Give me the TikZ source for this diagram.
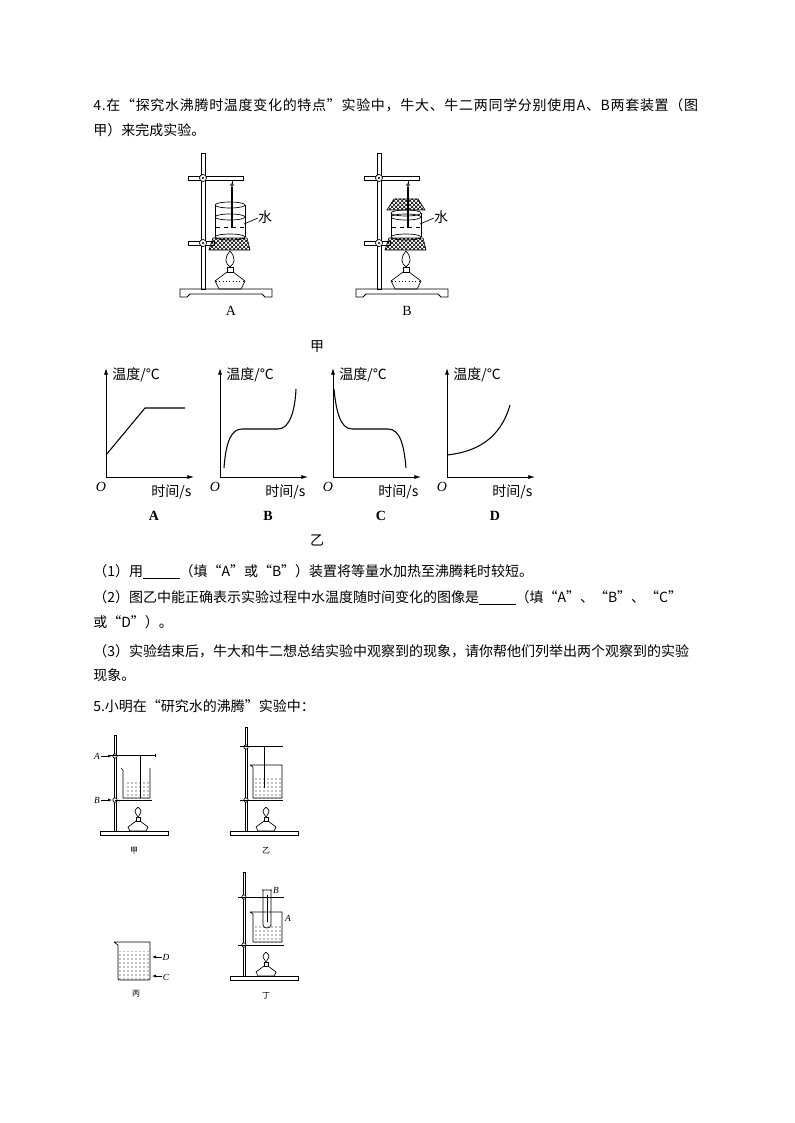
\documentclass[tikz,border=0pt]{standalone}
\usepackage{fontspec}
\setmainfont{Liberation Serif}
\newfontfamily\cjk{Noto Sans CJK SC}
\usetikzlibrary{patterns,arrows.meta}
\begin{document}
\begin{tikzpicture}[x=0.75pt,y=-0.75pt,line width=0.5pt,
  txt/.style={anchor=west,inner sep=0pt,font=\cjk\fontsize{10.5}{12}\selectfont},
  lab/.style={inner sep=0pt,font=\fontsize{10.5}{12}\selectfont\bfseries},
  glab/.style={inner sep=0pt,font=\cjk\fontsize{10.5}{12}\selectfont},
  sm/.style={inner sep=0pt,font=\cjk\fontsize{6}{7}\selectfont},
  ax/.style={-{Latex[length=5pt,width=3pt]},line width=0.6pt},
  crv/.style={line width=0.8pt}]
\useasboundingbox (0,0) rectangle (794,1123);
% ---- text
\node[txt,font=\cjk\fontsize{10.5}{12}\selectfont\addfontfeatures{LetterSpace=5}] (t1) at (93,105) {4.在“探究水沸腾时温度变化的特点”实验中，牛大、牛二两同学分别使用A、B两套装置（图};
\node[txt] (t2) at (93,130) {甲）来完成实验。};
\node[txt] (t3) at (93,572) {（1）用\underline{\hspace{2.6em}}（填“A”或“B”）装置将等量水加热至沸腾耗时较短。};
\node[txt] (t4) at (93,598) {（2）图乙中能正确表示实验过程中水温度随时间变化的图像是\underline{\hspace{2.6em}}（填“A”、“B”、“C”};
\node[txt] (t5) at (93,622) {或“D”）。};
\node[txt] (t6) at (93,651) {（3）实验结束后，牛大和牛二想总结实验中观察到的现象，请你帮他们列举出两个观察到的实验};
\node[txt] (t7) at (93,675) {现象。};
\node[txt] (t8) at (93,706) {5.小明在“研究水的沸腾”实验中：};
% ---- apparatus A and B
\foreach \dx/\L/\lid in {0/A/0,176/B/1}{
 \begin{scope}[xshift=\dx*0.75pt]
  \draw[line width=0.7pt] (180,297) -- (180,289) -- (272,289) -- (272,297) -- (265,297) -- (262,294) -- (190,294) -- (187,297) -- cycle;
  \draw (201,153) rectangle (205,289);
  \draw (188,176) rectangle (243,180);
  \draw[fill=white] (203,178) circle (3.5); \fill (203,178) circle (1.2);
  \draw (188,241) rectangle (214,245);
  \draw[fill=white] (203,243) circle (3.5); \fill (203,243) circle (1.2);
  \pgfmathsetmacro\bt{\lid==1 ? 213 : 205}
  \draw (215,\bt) -- (215,237) (245,\bt) -- (245,237);
  \draw (230,\bt) ellipse (15 and 3);
  \draw (230,217) ellipse (15 and 3);
  \draw (230,237) ellipse (15 and 3);
  \draw[dashed] (216,227) -- (244,227);
  \ifnum\lid=1
   \fill[pattern=crosshatch] (218,199) -- (242,199) -- (249,210) -- (211,210) -- cycle;
   \draw (218,199) -- (242,199) -- (249,210) -- (211,210) -- cycle;
  \fi
  \draw (232,180) -- (232,184); \draw (232,185) circle (1.3);
  \draw[line width=1.6pt] (232,187) -- (232,228);
  \fill[pattern=crosshatch] (213,238) -- (247,238) -- (250,250) -- (209,250) -- cycle;
  \draw (213,238) -- (247,238) -- (250,250) -- (209,250) -- cycle;
  % lamp
  \draw (230,251) .. controls (224,258) and (225,263) .. (230,267) .. controls (235,263) and (236,258) .. (230,251);
  \draw (227,267) rectangle (233,272);
  \draw (227,272) -- (215,281) -- (219,289) -- (241,289) -- (245,281) -- (233,272);
  \draw[dotted] (216,281) -- (244,281);
  \draw (244,224) -- (258,218);
  \node[glab] (w\L) at (265,217) {水};
  \node[lab,font=\fontsize{10.5}{12}\selectfont] (l\L) at (231,311) {\L};
 \end{scope}}
\node[glab] (jia) at (317,347) {甲};
% ---- graphs
\foreach \ox/\L in {106/A,220/B,333/C,447/D}{
 \draw[ax] (\ox,477) -- (\ox,368);
 \draw[ax] (\ox,477) -- (\ox+88,477);
 \node[glab,anchor=west] (ty\L) at (\ox+6,375) {温度/℃};
 \node[inner sep=0pt,font=\itshape\fontsize{10.5}{12}\selectfont] (o\L) at (\ox-5,487) {O};
 \node[glab,anchor=west] (tx\L) at (\ox+45,492) {时间/s};
 \node[lab] (g\L) at (\ox+48,516) {\L};
}
\draw[crv] (106,455) -- (145,408) -- (185,408);
\draw[crv] (224,468) .. controls (226,440) and (232,429) .. (242,429) -- (278,429) .. controls (290,429) and (295,410) .. (296,389);
\draw[crv] (334,389) .. controls (336,410) and (340,429) .. (352,429) -- (388,429) .. controls (400,429) and (404,445) .. (406,468);
\draw[crv] (447,455) .. controls (475,452) and (500,440) .. (510,405);
\node[glab] (yi) at (317,540) {乙};
% ---- problem 5 apparatus
\newcommand\smallstand[6]{% rodx, rodtop, clampy, lowy, basey, baseleft
 \draw[line width=0.6pt] (#6,#5) rectangle ++(68,4);
 \draw (#1-1,#2) rectangle (#1+1,#5);
 \draw[fill=white] (#1,#3) circle (2.2);
 \draw[fill=white] (#1,#4) circle (2.2);
}
\newcommand\smalllamp[2]{% cx, base y
 \draw (#1,#2-24) .. controls (#1-4,#2-20) .. (#1,#2-14) .. controls (#1+4,#2-20) .. (#1,#2-24);
 \draw (#1-2,#2-14) rectangle (#1+2,#2-10);
 \draw (#1-2,#2-10) -- (#1-10,#2-4) -- (#1-8,#2) -- (#1+8,#2) -- (#1+10,#2-4) -- (#1+2,#2-10);
}
% 甲
\smallstand{115}{735}{756}{800}{831}{100}
\draw (109,755) -- (155,755); \draw (155,753.5) -- (155,756.5);
\draw (140,756) -- (140,798);
\fill[pattern=dots] (125,780) rectangle (150,798);
\draw (121,768) -- (123,770) -- (123,798) -- (150,798) -- (150,768);
\draw (115,800) -- (152,800);
\smalllamp{138}{831}
\draw[-{Latex[length=3pt]}] (101,756) -- (112,756);
\draw[-{Latex[length=3pt]}] (101,800) -- (112,800);
\node[inner sep=0pt,font=\itshape\fontsize{7}{8}\selectfont] (pA) at (97,756) {A};
\node[inner sep=0pt,font=\itshape\fontsize{7}{8}\selectfont] (pB) at (97,800) {B};
\node[sm] (s1) at (134,851) {甲};
% 乙
\smallstand{246}{727}{747}{800}{831}{230}
\draw (240,746) -- (283,746);
\draw (264,747) -- (264,788);
\fill[pattern=dots] (254,778) rectangle (282,798);
\draw (250,765) -- (253,767) -- (253,798) -- (282,798) -- (282,765) -- (250,765);
\draw (240,800) -- (283,800);
\smalllamp{266}{831}
\node[sm] (s2) at (266,851) {乙};
% 丙
\fill[pattern=dots] (119,951) rectangle (150,980);
\draw (114,942) -- (118,945) -- (118,978) .. controls (118,980) .. (121,980) -- (148,980) .. controls (150,980) .. (150,978) -- (150,942) -- (114,942);
\draw[-{Latex[length=3pt]}] (162,957) -- (152,957);
\draw[-{Latex[length=3pt]}] (162,976) -- (152,976);
\node[inner sep=0pt,font=\itshape\fontsize{7}{8}\selectfont] (pD) at (166,957) {D};
\node[inner sep=0pt,font=\itshape\fontsize{7}{8}\selectfont] (pC) at (166,977) {C};
\node[sm] (s3) at (136,994) {丙};
% 丁
\smallstand{244}{872}{897}{945}{976}{230}
\draw (238,897) -- (284,897);
\draw (262,890) -- (272,890) (263,890) -- (263,925) .. controls (263,929) and (271,929) .. (271,925) -- (271,890);
\draw (267,895) -- (267,922);
\fill[pattern=dots] (254,925) rectangle (282,942);
\draw (250,912) -- (253,914) -- (253,942) -- (282,942) -- (282,912) -- (250,912);
\draw (238,945) -- (284,945);
\smalllamp{266}{976}
\node[inner sep=0pt,font=\itshape\fontsize{7}{8}\selectfont] (qB) at (276,890) {B};
\node[inner sep=0pt,font=\itshape\fontsize{7}{8}\selectfont] (qA) at (288,918) {A};
\node[sm] (s4) at (266,996) {丁};
\end{tikzpicture}
\end{document}
